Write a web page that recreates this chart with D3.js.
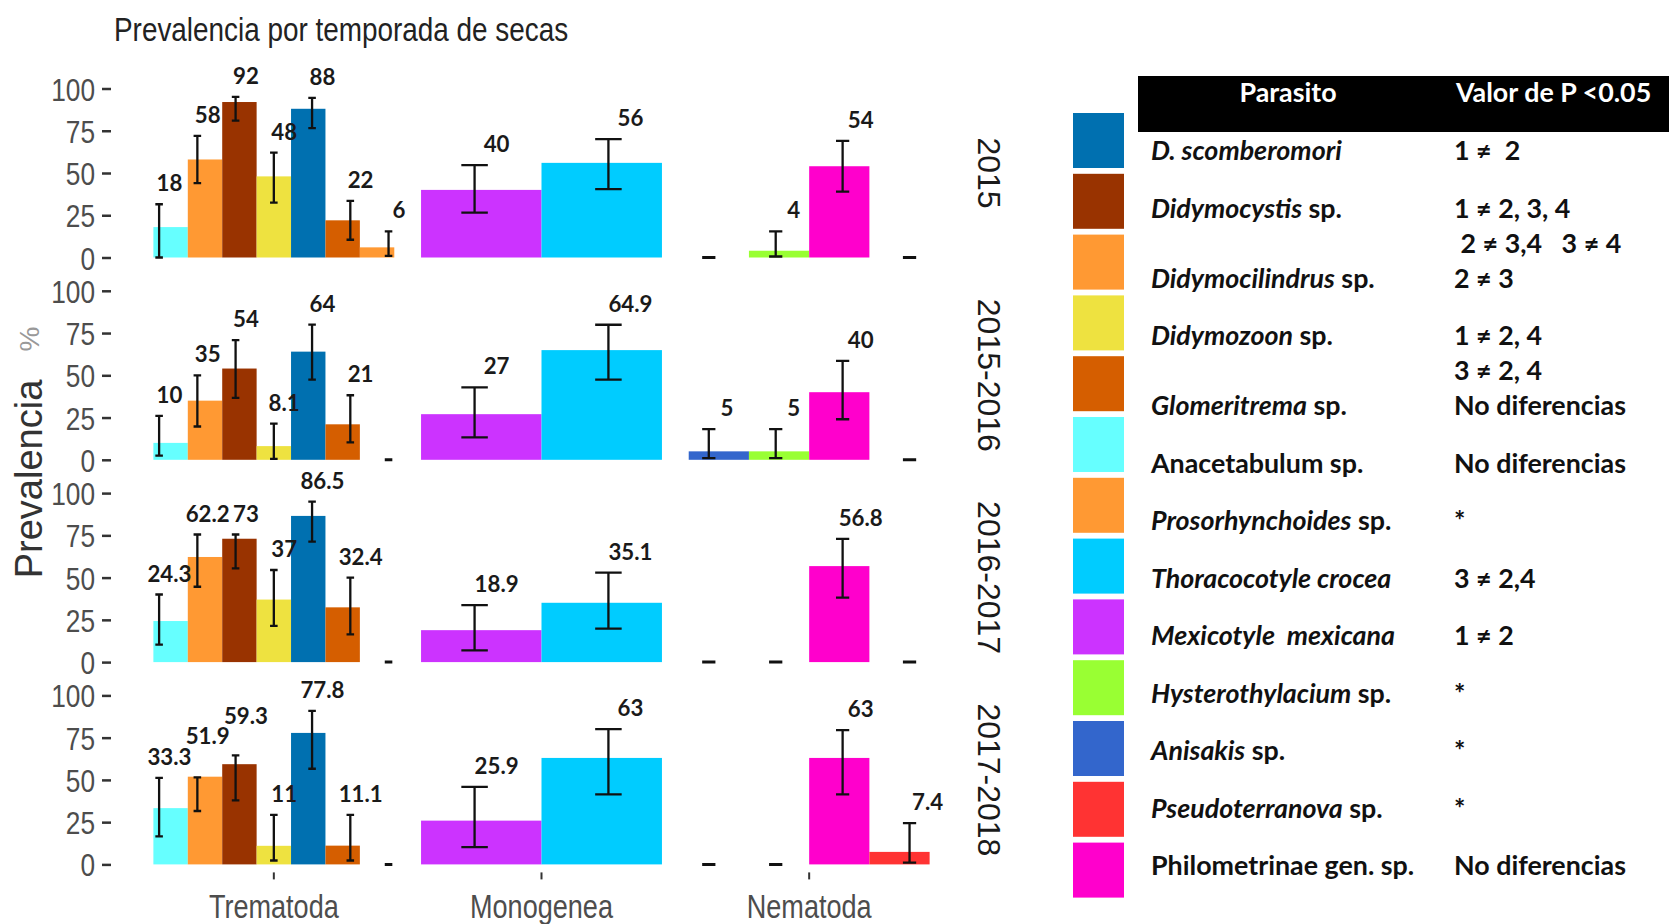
<!DOCTYPE html>
<html>
<head>
<meta charset="utf-8">
<script src="https://cdn.jsdelivr.net/npm/d3@7"></script>
<style>
  body { margin: 0; background: #fff; }
  svg { display: block; }
  text { white-space: pre; }
</style>
</head>
<body>
<svg id="chart" width="1669" height="924"></svg>
<script>
// ---------------- DATA ----------------
const chartTitle = "Prevalencia por temporada de secas";
const seasons = ["2015", "2015-2016", "2016-2017", "2017-2018"];
const groups = ["Trematoda", "Monogenea", "Nematoda"];
const yTicks = [0, 25, 50, 75, 100];

const trematodaSpecies = ["Anacetabulum sp.", "Didymocilindrus sp.", "Didymocystis sp.", "Didymozoon sp.",
  "D. scomberomori", "Glomeritrema sp.", "Prosorhynchoides sp."];
const monogeneaSpecies = ["Mexicotyle mexicana", "Thoracocotyle crocea"];
const nematodaSpecies = ["Anisakis sp.", "Hysterothylacium sp.", "Philometrinae gen. sp.", "Pseudoterranova sp."];

// prevalence (%) per season (rows) and species (columns)
const trematodaPrev = [
  [18, 58, 92, 48, 88, 22, 6],
  [10, 35, 54, 8.1, 64, 21, 0],
  [24.3, 62.2, 73, 37, 86.5, 32.4, 0],
  [33.3, 51.9, 59.3, 11, 77.8, 11.1, 0]
];
const trematodaLow = [
  [0, 44, 81, 32.5, 76.5, 10.5, 1],
  [2.5, 19.7, 36.6, 0.6, 47.4, 10.3, 0],
  [10.3, 44.6, 55.4, 21.4, 71.3, 16.4, 0],
  [16.6, 31.6, 37.9, 2.3, 56.6, 2.3, 0]
];
const trematodaHigh = [
  [31.5, 72, 95, 62, 94.5, 33.5, 15.5],
  [26, 50, 70.8, 21.4, 80, 38.2, 0],
  [40, 75.5, 75.5, 54.5, 95, 50, 0],
  [51.2, 51.5, 64.5, 29.3, 90.8, 29.3, 0]
];

const monogeneaPrev = [[40, 56], [27, 64.9], [18.9, 35.1], [25.9, 63]];
const monogeneaLow = [[26.6, 40.5], [13.3, 47.4], [6.9, 19.8], [10.2, 41.4]];
const monogeneaHigh = [[54.7, 70], [42.9, 79.9], [33.7, 52.9], [45.9, 80]];

const nematodaPrev = [[0, 4, 54, 0], [5, 5, 40, 0], [0, 0, 56.8, 0], [0, 0, 63, 7.4]];
const nematodaLow = [[0, 0.6, 39, 0], [1, 1, 24, 0], [0, 0, 38.2, 0], [0, 0, 41.4, 1]];
const nematodaHigh = [[0, 15.5, 69, 0], [18.1, 18.1, 58.5, 0], [0, 0, 72.9, 0], [0, 0, 79.5, 24.4]];

// legend (colour key) order
const legendSpecies = ["D. scomberomori", "Didymocystis sp.", "Didymocilindrus sp.", "Didymozoon sp.",
  "Glomeritrema sp.", "Anacetabulum sp.", "Prosorhynchoides sp.", "Thoracocotyle crocea",
  "Mexicotyle mexicana", "Hysterothylacium sp.", "Anisakis sp.", "Pseudoterranova sp.", "Philometrinae gen. sp."];

// table text
const tableHeaders = ["Parasito", "Valor de P <0.05"];
const tableNameItalic = ["D. scomberomori", "Didymocystis", "", "Didymocilindrus", "Didymozoon", "",
  "Glomeritrema", "", "Prosorhynchoides", "Thoracocotyle crocea", "Mexicotyle  mexicana",
  "Hysterothylacium", "Anisakis", "Pseudoterranova", ""];
const tableNameRegular = ["", " sp.", "", " sp.", " sp.", "", " sp.", "Anacetabulum sp.", " sp.", "", "",
  " sp.", " sp.", " sp.", "Philometrinae gen. sp."];
const tablePValue = ["1 ≠  2", "1 ≠ 2, 3, 4", " 2 ≠ 3,4   3 ≠ 4", "2 ≠ 3", "1 ≠ 2, 4", "3 ≠ 2, 4",
  "No diferencias", "No diferencias", "*", "3 ≠ 2,4", "1 ≠ 2", "*", "*", "*", "No diferencias"];

// ---------------- STYLE ----------------
const speciesPalette = ["#0070B0", "#993300", "#FF9933", "#EEE240", "#D55E00", "#66FFFF", "#FF9933",
  "#00CCFF", "#CC33FF", "#99FF33", "#3366CC", "#FF3333", "#FF00CC"];
const color = d3.scaleOrdinal().domain(legendSpecies).range(speciesPalette);

const ctx = document.createElement("canvas").getContext("2d");
function hasFont(f) {
  ctx.font = "40px monospace";
  const a = ctx.measureText("Trematoda 0123").width;
  ctx.font = `40px "${f}", monospace`;
  const b = ctx.measureText("Trematoda 0123").width;
  return Math.abs(a - b) > 0.5;
}
const hasNarrow = hasFont("Liberation Sans Narrow");
const NARROW = hasNarrow ? '"Liberation Sans Narrow", "Liberation Sans", Arial, sans-serif' : '"Liberation Sans", Arial, sans-serif';
const REG = '"Liberation Sans", Arial, sans-serif';
const LBL = 'Lato, "Open Sans", sans-serif';
function fitSize(text, family, weight, style, target) {
  ctx.font = `${style} ${weight} 100px ${family}`;
  return 100 * target / ctx.measureText(text).width;
}
function narrowify(sel) {
  if (hasNarrow) return;
  sel.each(function () {
    const w = this.getComputedTextLength();
    d3.select(this).attr("textLength", w * 0.82).attr("lengthAdjust", "spacingAndGlyphs");
  });
}
const labelSize = fitSize("00.0", LBL, 700, "normal", 44);
const tableSize = fitSize("No diferencias", LBL, 700, "normal", 172);

// ---------------- LAYOUT ----------------
const svg = d3.select("#chart");
const x = d3.scaleBand().domain(groups).range([140, 943]).paddingInner(0.1).paddingOuter(0.05);
const panelTop = 88.5, panelStep = 202.3, panelH = 169;

const groupSpecies = [trematodaSpecies, monogeneaSpecies, nematodaSpecies];
const groupPrev = [trematodaPrev, monogeneaPrev, nematodaPrev];
const groupLow = [trematodaLow, monogeneaLow, nematodaLow];
const groupHigh = [trematodaHigh, monogeneaHigh, nematodaHigh];

// title
const title = svg.append("text").attr("x", 114).attr("y", 41)
  .attr("font-family", NARROW).attr("font-size", 34).attr("fill", "#222").text(chartTitle);
narrowify(title);

seasons.forEach((season, si) => {
  const top = panelTop + si * panelStep;
  const y = d3.scaleLinear().domain([0, 100]).range([top + panelH, top]);
  const g = svg.append("g");

  const ax = g.append("g").attr("transform", "translate(111,0)")
    .call(d3.axisLeft(y).tickValues(yTicks).tickSize(9).tickPadding(7));
  ax.select(".domain").remove();
  ax.selectAll(".tick line").attr("stroke", "#333").attr("stroke-width", 2.5);
  const tl = ax.selectAll(".tick text").attr("font-family", NARROW).attr("font-size", 32)
    .attr("fill", "#4d4d4d").attr("dy", "0.36em");
  narrowify(tl);

  const placed = [];
  groups.forEach((grp, gi) => {
    const sp = groupSpecies[gi];
    const n = sp.length;
    const sub = d3.scaleBand().domain(sp).range([x(grp), x(grp) + x.bandwidth()]);
    const data = sp.map((name, i) => ({
      name, i, v: groupPrev[gi][si][i], lo: groupLow[gi][si][i], hi: groupHigh[gi][si][i]
    }));
    const ex = d => x(grp) + x.bandwidth() / 2 + (d.i - (n - 1) / 2) * x.step() / n;
    const cap = sub.bandwidth() * 0.22 / 2;

    g.append("g").selectAll("rect").data(data.filter(d => d.v > 0)).join("rect")
      .attr("x", d => sub(d.name)).attr("width", sub.bandwidth())
      .attr("y", d => y(d.v)).attr("height", d => y(0) - y(d.v))
      .attr("fill", d => color(d.name));

    const eb = g.append("g").attr("stroke", "#111").attr("fill", "none");
    eb.selectAll("path").data(data).join("path")
      .attr("d", d => {
        const cx = ex(d), a = y(d.hi), b = y(d.lo);
        return `M${cx - cap},${a}H${cx + cap}M${cx},${a}V${b}M${cx - cap},${b}H${cx + cap}`;
      })
      .attr("stroke-width", d => d.hi === 0 ? 3 : 2.3);

    const dx = Math.min(22, sub.bandwidth() * 0.3);
    const labels = g.append("g").selectAll("text").data(data.filter(d => d.v > 0)).join("text")
      .attr("x", d => ex(d) + dx).attr("y", d => y(d.hi) - 13)
      .attr("text-anchor", "middle").attr("font-family", LBL).attr("font-weight", 700)
      .attr("font-size", labelSize).attr("fill", "#1a1a1a")
      .text(d => String(d.v));

    // keep value labels from overlapping each other (left to right)
    labels.each(function () {
      const w = this.getComputedTextLength();
      let cx = +this.getAttribute("x"), by = +this.getAttribute("y");
      const h = labelSize * 0.74;
      for (let iter = 0; iter < 6; iter++) {
        let moved = false;
        for (const p of placed) {
          const ox = Math.min(cx + w / 2, p.x1) - Math.max(cx - w / 2, p.x0);
          const oy = Math.min(by + 2, p.y1) - Math.max(by - h - 2, p.y0);
          if (ox > 0 && oy > 0) {
            if (ox <= 5) cx += ox + 2; else by -= oy;
            moved = true;
          }
        }
        if (!moved) break;
      }
      d3.select(this).attr("x", cx).attr("y", by);
      placed.push({ x0: cx - w / 2, x1: cx + w / 2, y0: by - h - 2, y1: by + 2 });
    });
  });

  // facet strip label
  svg.append("text")
    .attr("transform", `translate(978,${top + panelH / 2}) rotate(90)`)
    .attr("text-anchor", "middle").attr("font-family", REG).attr("font-size", 32)
    .attr("fill", "#1a1a1a").text(season);
});

// x axis
const xAxisY = panelTop + 3 * panelStep + panelH + 8;
const xa = svg.append("g").attr("transform", `translate(0,${xAxisY})`)
  .call(d3.axisBottom(x).tickSize(7).tickPadding(0));
xa.select(".domain").remove();
xa.selectAll(".tick line").attr("stroke", "#333").attr("stroke-width", 2);
const xl = xa.selectAll(".tick text").attr("y", 46).attr("dy", 0).attr("font-family", NARROW)
  .attr("font-size", 33).attr("fill", "#4d4d4d");
narrowify(xl);

// y axis title
svg.append("text").attr("transform", "translate(42,479) rotate(-90)")
  .attr("text-anchor", "middle").attr("font-family", REG).attr("font-size", 38)
  .attr("fill", "#333").text("Prevalencia");
svg.append("text").attr("transform", "translate(39,339) rotate(-90)")
  .attr("text-anchor", "middle").attr("font-family", REG).attr("font-size", 28)
  .attr("fill", "#999").text("%");

// ---------------- LEGEND / TABLE ----------------
const lg = svg.append("g");
const swStep = 60.8;
lg.selectAll("rect").data(legendSpecies).join("rect")
  .attr("x", 1073).attr("y", (d, i) => 113 + i * swStep)
  .attr("width", 51).attr("height", 55).attr("fill", d => color(d));

lg.append("rect").attr("x", 1138).attr("y", 76).attr("width", 531).attr("height", 56).attr("fill", "#000");
lg.append("text").attr("x", 1288).attr("y", 102).attr("text-anchor", "middle")
  .attr("font-family", LBL).attr("font-weight", 700).attr("font-size", tableSize)
  .attr("fill", "#fff").text(tableHeaders[0]);
lg.append("text").attr("x", 1456).attr("y", 102)
  .attr("font-family", LBL).attr("font-weight", 700).attr("font-size", tableSize)
  .attr("fill", "#fff").text(tableHeaders[1]);

let rowY = 160;
tablePValue.forEach((pv, k) => {
  const cont = !tableNameItalic[k] && !tableNameRegular[k];
  if (k > 0) {
    const prevCont = !tableNameItalic[k - 1] && !tableNameRegular[k - 1];
    rowY += (cont || prevCont) ? 35 : 57.5;
  }
  const t = lg.append("text").attr("x", 1151).attr("y", rowY)
    .attr("font-family", LBL).attr("font-weight", 700).attr("font-size", tableSize).attr("fill", "#111");
  if (tableNameItalic[k]) t.append("tspan").attr("font-style", "italic").text(tableNameItalic[k]);
  if (tableNameRegular[k]) t.append("tspan").text(tableNameRegular[k]);
  lg.append("text").attr("x", 1454).attr("y", rowY)
    .attr("font-family", LBL).attr("font-weight", 700).attr("font-size", tableSize).attr("fill", "#111")
    .text(pv);
});
</script>
</body>
</html>
